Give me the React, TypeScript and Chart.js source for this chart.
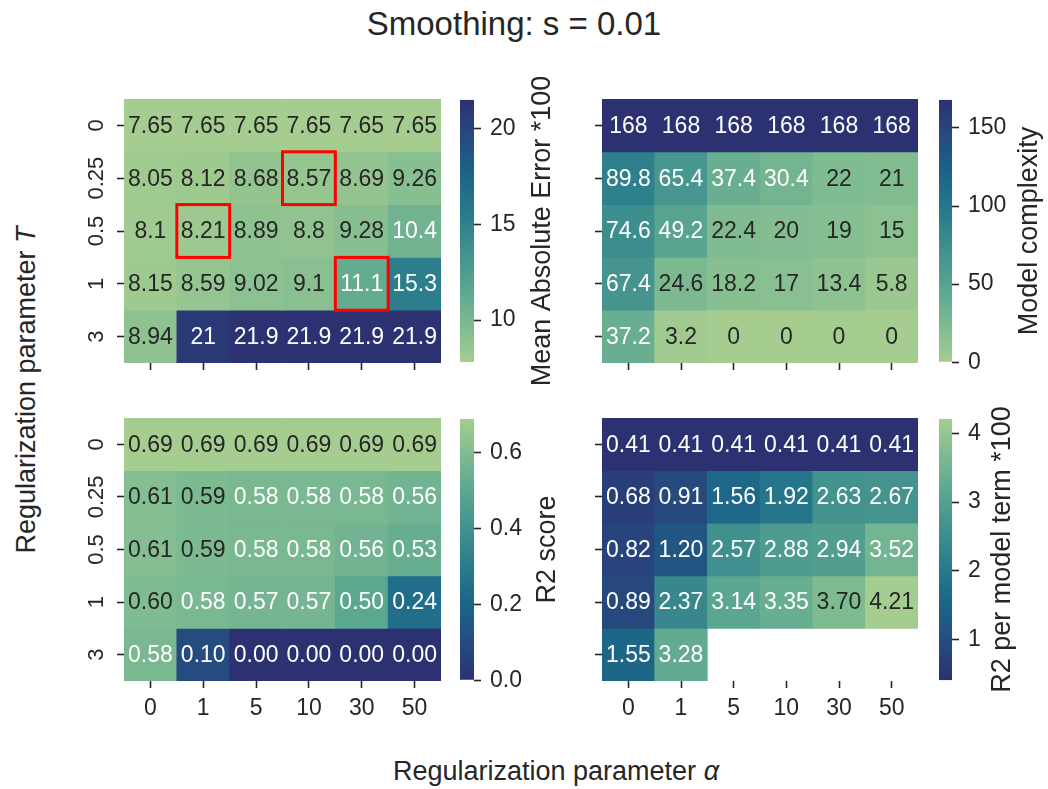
import React, { useEffect, useRef } from 'react';
import { Chart, registerables } from 'chart.js';

Chart.register(...registerables);
Chart.defaults.font.family = "'Liberation Sans', Arial, sans-serif";

// ---------------- data ----------------
const ALPHA_LABELS = ['0', '1', '5', '10', '30', '50'];
const T_LABELS = ['0', '0.25', '0.5', '1', '3'];

const MAE = [
  [7.65, 7.65, 7.65, 7.65, 7.65, 7.65],
  [8.05, 8.12, 8.68, 8.57, 8.69, 9.26],
  [8.1, 8.21, 8.89, 8.8, 9.28, 10.4],
  [8.15, 8.59, 9.02, 9.1, 11.1, 15.3],
  [8.94, 21, 21.9, 21.9, 21.9, 21.9],
];
const COMPLEXITY = [
  [168, 168, 168, 168, 168, 168],
  [89.8, 65.4, 37.4, 30.4, 22, 21],
  [74.6, 49.2, 22.4, 20, 19, 15],
  [67.4, 24.6, 18.2, 17, 13.4, 5.8],
  [37.2, 3.2, 0, 0, 0, 0],
];
const R2 = [
  [0.69, 0.69, 0.69, 0.69, 0.69, 0.69],
  [0.61, 0.59, 0.58, 0.58, 0.58, 0.56],
  [0.61, 0.59, 0.58, 0.58, 0.56, 0.53],
  [0.6, 0.58, 0.57, 0.57, 0.5, 0.24],
  [0.58, 0.1, 0.0, 0.0, 0.0, 0.0],
];
const R2_PER_TERM = [
  [0.41, 0.41, 0.41, 0.41, 0.41, 0.41],
  [0.68, 0.91, 1.56, 1.92, 2.63, 2.67],
  [0.82, 1.2, 2.57, 2.88, 2.94, 3.52],
  [0.89, 2.37, 3.14, 3.35, 3.7, 4.21],
  [1.55, 3.28, null, null, null, null],
];

const MAE_RANGE = [7.8, 21.5];
const COMPLEXITY_RANGE = [0, 168];
const R2_RANGE = [0, 0.69];
const R2_PER_TERM_RANGE = [0.41, 4.21];

const MAE_TICKS = [10, 15, 20];
const COMPLEXITY_TICKS = [0, 50, 100, 150];
const R2_TICKS = [0, 0.2, 0.4, 0.6];
const R2_PER_TERM_TICKS = [1, 2, 3, 4];

// [row, col] cells outlined in red on the MAE panel
const HIGHLIGHT_CELLS = [
  [1, 3],
  [2, 1],
  [3, 4],
];

// seaborn "crest" colormap stops
const CREST = ['#a5cd90', '#7dba91', '#59a590', '#40908e', '#287a8c', '#1c6488', '#254b7f', '#2c3172'];

// ---------------- helpers ----------------
const FONT = "'Liberation Sans', Arial, sans-serif";
const DARK = '#262626';
const ANNOT_SIZE = 23;
const YTICK_SIZE = 22;
const XTICK_SIZE = 23;
const CBTICK_SIZE = 23;
const CBLABEL_SIZE = 27;

function hexToRgb(h: string) {
  const n = parseInt(h.slice(1), 16);
  return [(n >> 16) & 255, (n >> 8) & 255, n & 255];
}
const CREST_RGB = CREST.map(hexToRgb);

function crest(t: number) {
  const tt = Math.max(0, Math.min(1, t));
  const n = CREST_RGB.length - 1;
  const f = tt * n;
  const i = Math.min(Math.floor(f), n - 1);
  const u = f - i;
  const a = CREST_RGB[i];
  const b = CREST_RGB[i + 1];
  return [0, 1, 2].map((k) => a[k] + (b[k] - a[k]) * u);
}

function rgbStr(c: number[]) {
  return `rgb(${Math.round(c[0])},${Math.round(c[1])},${Math.round(c[2])})`;
}

function luminance(c: number[]) {
  const lin = c.map((v) => {
    const s = v / 255;
    return s <= 0.03928 ? s / 12.92 : Math.pow((s + 0.055) / 1.055, 2.4);
  });
  return 0.2126 * lin[0] + 0.7152 * lin[1] + 0.0722 * lin[2];
}

function cellColor(v: number, p: any) {
  let t = (v - p.range[0]) / (p.range[1] - p.range[0]);
  if (p.reversed) t = 1 - t;
  return crest(t);
}

function fmtValue(v: number, fmt: string) {
  if (fmt === 'g3') return String(Number(v.toPrecision(3)));
  return v.toFixed(2);
}

// ---------------- panels ----------------
const PANELS = [
  {
    key: 'mae',
    values: MAE,
    range: MAE_RANGE,
    reversed: false,
    fmt: 'g3',
    area: { L: 124, T: 99, R: 441, B: 363 },
    showX: false,
    showY: true,
    cb: { L: 460, T: 93, R: 474, B: 369 },
    cbTicks: MAE_TICKS,
    cbDecimals: 0,
    cbLabel: 'Mean Absolute Error *100',
    cbLabelX: 543,
    highlights: HIGHLIGHT_CELLS,
  },
  {
    key: 'complexity',
    values: COMPLEXITY,
    range: COMPLEXITY_RANGE,
    reversed: false,
    fmt: 'g3',
    area: { L: 602, T: 99, R: 918, B: 363 },
    showX: false,
    showY: false,
    cb: { L: 939, T: 93, R: 952, B: 369 },
    cbTicks: COMPLEXITY_TICKS,
    cbDecimals: 0,
    cbLabel: 'Model complexity',
    cbLabelX: 1030,
    highlights: [],
  },
  {
    key: 'r2',
    values: R2,
    range: R2_RANGE,
    reversed: true,
    fmt: 'f2',
    area: { L: 124, T: 418, R: 441, B: 681 },
    showX: true,
    showY: true,
    cb: { L: 460, T: 412, R: 474, B: 687 },
    cbTicks: R2_TICKS,
    cbDecimals: 1,
    cbLabel: 'R2 score',
    cbLabelX: 548,
    highlights: [],
  },
  {
    key: 'r2term',
    values: R2_PER_TERM,
    range: R2_PER_TERM_RANGE,
    reversed: true,
    fmt: 'f2',
    area: { L: 602, T: 418, R: 918, B: 681 },
    showX: true,
    showY: false,
    cb: { L: 939, T: 412, R: 952, B: 687 },
    cbTicks: R2_PER_TERM_TICKS,
    cbDecimals: 0,
    cbLabel: 'R2 per model term *100',
    cbLabelX: 1003,
    highlights: [],
  },
];

const Y_AXIS_W = 64;
const HM_PAD_T = 10;
const HM_PAD_R = 12;
const TICK_LEN = 7;

function heatmapGeom(p: any) {
  const hx = p.showX ? 56 : 14;
  return {
    left: p.area.L - Y_AXIS_W,
    top: p.area.T - HM_PAD_T,
    width: p.area.R - p.area.L + Y_AXIS_W + HM_PAD_R,
    height: p.area.B - p.area.T + HM_PAD_T + hx,
    hx,
  };
}

function heatmapConfig(p: any): any {
  const g = heatmapGeom(p);
  const datasets = p.values.map((row: (number | null)[], r: number) => ({
    label: T_LABELS[r],
    data: row.map((v) => (v === null ? null : [r - 0.5, r + 0.5])),
    backgroundColor: row.map((v) => (v === null ? 'rgba(0,0,0,0)' : rgbStr(cellColor(v, p)))),
    borderWidth: 0,
    barPercentage: 1,
    categoryPercentage: 1,
    grouped: false,
  }));

  const annotPlugin = {
    id: 'annot_' + p.key,
    afterDatasetsDraw(chart: any) {
      const ctx = chart.ctx;
      ctx.save();
      ctx.font = `${ANNOT_SIZE}px ${FONT}`;
      ctx.textAlign = 'center';
      ctx.textBaseline = 'middle';
      p.values.forEach((row: (number | null)[], r: number) => {
        const meta = chart.getDatasetMeta(r);
        row.forEach((v, c) => {
          if (v === null) return;
          const el = meta.data[c];
          if (!el) return;
          const cy = (el.y + el.base) / 2;
          const lum = luminance(cellColor(v, p));
          ctx.fillStyle = lum > 0.408 ? DARK : '#ffffff';
          ctx.fillText(fmtValue(v, p.fmt), el.x, cy + 1);
        });
      });
      // highlighted cells
      const xs = chart.scales.x;
      const ys = chart.scales.y;
      const cw = xs.getPixelForValue(1) - xs.getPixelForValue(0);
      ctx.strokeStyle = '#ff0000';
      ctx.lineWidth = 3;
      p.highlights.forEach(([r, c]: number[]) => {
        const x0 = xs.getPixelForValue(c) - cw / 2;
        const y0 = ys.getPixelForValue(r - 0.5);
        const y1 = ys.getPixelForValue(r + 0.5);
        ctx.strokeRect(x0, y0, cw, y1 - y0);
      });
      // rotated row tick labels
      if (p.showY) {
        ctx.fillStyle = DARK;
        ctx.font = `${YTICK_SIZE}px ${FONT}`;
        T_LABELS.forEach((lab, i) => {
          const y = ys.getPixelForValue(i);
          ctx.save();
          ctx.translate(chart.chartArea.left - 27, y);
          ctx.rotate(-Math.PI / 2);
          ctx.textAlign = 'center';
          ctx.textBaseline = 'middle';
          ctx.fillText(lab, 0, 0);
          ctx.restore();
        });
      }
      ctx.restore();
    },
  };

  const gridOpts = {
    offset: false,
    drawOnChartArea: false,
    drawTicks: true,
    tickLength: TICK_LEN,
    tickWidth: 1.6,
    tickColor: DARK,
  };

  return {
    type: 'bar',
    data: { labels: ALPHA_LABELS, datasets },
    options: {
      animation: false,
      responsive: false,
      devicePixelRatio: 1,
      events: [],
      layout: { padding: { left: 0, right: HM_PAD_R, top: HM_PAD_T, bottom: 0 } },
      plugins: { legend: { display: false }, tooltip: { enabled: false }, title: { display: false } },
      scales: {
        x: {
          type: 'category',
          offset: true,
          grid: gridOpts,
          border: { display: false },
          ticks: {
            display: p.showX,
            color: DARK,
            font: { size: XTICK_SIZE, family: FONT },
            padding: 7,
            minRotation: 0,
            maxRotation: 0,
            autoSkip: false,
          },
          afterFit: (s: any) => {
            s.height = g.hx;
          },
        },
        y: {
          type: 'linear',
          reverse: true,
          min: -0.5,
          max: T_LABELS.length - 0.5,
          afterBuildTicks: (s: any) => {
            s.ticks = T_LABELS.map((_, i) => ({ value: i }));
          },
          grid: gridOpts,
          border: { display: false },
          ticks: { display: false },
          afterFit: (s: any) => {
            s.width = Y_AXIS_W;
          },
        },
      },
    },
    plugins: [annotPlugin],
  };
}

const CB_PAD_L = 5;
const CB_PAD_V = 16;
const CB_RIGHT_W = 112;

function cbGeom(p: any) {
  return {
    left: p.cb.L - CB_PAD_L,
    top: p.cb.T - CB_PAD_V,
    width: p.cb.R - p.cb.L + CB_PAD_L + CB_RIGHT_W,
    height: p.cb.B - p.cb.T + 2 * CB_PAD_V,
  };
}

function colorbarConfig(p: any): any {
  const g = cbGeom(p);
  const labelPlugin = {
    id: 'cblabel_' + p.key,
    afterDraw(chart: any) {
      const ctx = chart.ctx;
      const ca = chart.chartArea;
      ctx.save();
      ctx.fillStyle = DARK;
      ctx.font = `${CBLABEL_SIZE}px ${FONT}`;
      ctx.translate(p.cbLabelX - g.left, (ca.top + ca.bottom) / 2);
      ctx.rotate(-Math.PI / 2);
      ctx.textAlign = 'center';
      ctx.textBaseline = 'middle';
      ctx.fillText(p.cbLabel, 0, 0);
      ctx.restore();
    },
  };
  return {
    type: 'bar',
    data: {
      labels: [''],
      datasets: [
        {
          data: [[p.range[0], p.range[1]]],
          backgroundColor: (c: any) => {
            const chart = c.chart;
            const ys = chart.scales.y;
            if (!chart.chartArea || !ys) return CREST[0];
            const y0 = ys.getPixelForValue(p.range[0]);
            const y1 = ys.getPixelForValue(p.range[1]);
            const grad = chart.ctx.createLinearGradient(0, y0, 0, y1);
            const n = 40;
            for (let i = 0; i <= n; i++) {
              const t = i / n;
              grad.addColorStop(t, rgbStr(crest(p.reversed ? 1 - t : t)));
            }
            return grad;
          },
          borderWidth: 0,
          barPercentage: 1,
          categoryPercentage: 1,
          inflateAmount: 0,
        },
      ],
    },
    options: {
      animation: false,
      responsive: false,
      devicePixelRatio: 1,
      events: [],
      layout: { padding: { left: CB_PAD_L, right: 0, top: CB_PAD_V, bottom: CB_PAD_V } },
      plugins: { legend: { display: false }, tooltip: { enabled: false } },
      scales: {
        x: { display: false, offset: true },
        y: {
          type: 'linear',
          position: 'right',
          min: p.range[0],
          max: p.range[1],
          afterBuildTicks: (s: any) => {
            s.ticks = p.cbTicks.map((v: number) => ({ value: v }));
          },
          grid: {
            drawOnChartArea: false,
            drawTicks: true,
            tickLength: TICK_LEN,
            tickWidth: 1.6,
            tickColor: DARK,
          },
          border: { display: false },
          ticks: {
            color: DARK,
            font: { size: CBTICK_SIZE, family: FONT },
            padding: 9,
            callback: (v: any) => Number(v).toFixed(p.cbDecimals),
          },
          afterFit: (s: any) => {
            s.width = CB_RIGHT_W;
          },
        },
      },
    },
    plugins: [labelPlugin],
  };
}

// ---------------- components ----------------
function ChartCanvas({ geom, make }: { geom: any; make: () => any }) {
  const ref = useRef<HTMLCanvasElement | null>(null);
  useEffect(() => {
    if (!ref.current) return;
    const chart = new Chart(ref.current, make());
    return () => chart.destroy();
  }, []);
  return (
    <canvas
      ref={ref}
      width={geom.width}
      height={geom.height}
      style={{ position: 'absolute', left: geom.left, top: geom.top, width: geom.width, height: geom.height }}
    />
  );
}

export default function App() {
  return (
    <div
      style={{
        position: 'absolute',
        left: 0,
        top: 0,
        width: 1048,
        height: 789,
        background: '#ffffff',
        overflow: 'hidden',
        fontFamily: FONT,
        color: DARK,
      }}
    >
      <div
        style={{
          position: 'absolute',
          left: 514 - 300,
          width: 600,
          top: 3,
          textAlign: 'center',
          fontSize: 33,
          lineHeight: '42px',
          whiteSpace: 'nowrap',
        }}
      >
        Smoothing: s = 0.01
      </div>
      <div
        style={{
          position: 'absolute',
          left: 556 - 300,
          width: 600,
          top: 753,
          textAlign: 'center',
          fontSize: 27,
          lineHeight: '36px',
          whiteSpace: 'nowrap',
        }}
      >
        Regularization parameter <i>α</i>
      </div>
      <div
        style={{
          position: 'absolute',
          left: 26 - 250,
          top: 390 - 18,
          width: 500,
          height: 36,
          lineHeight: '36px',
          textAlign: 'center',
          fontSize: 27,
          whiteSpace: 'nowrap',
          transform: 'rotate(-90deg)',
        }}
      >
        Regularization parameter <i>T</i>
      </div>
      {PANELS.map((p) => (
        <React.Fragment key={p.key}>
          <ChartCanvas geom={heatmapGeom(p)} make={() => heatmapConfig(p)} />
          <ChartCanvas geom={cbGeom(p)} make={() => colorbarConfig(p)} />
        </React.Fragment>
      ))}
    </div>
  );
}
